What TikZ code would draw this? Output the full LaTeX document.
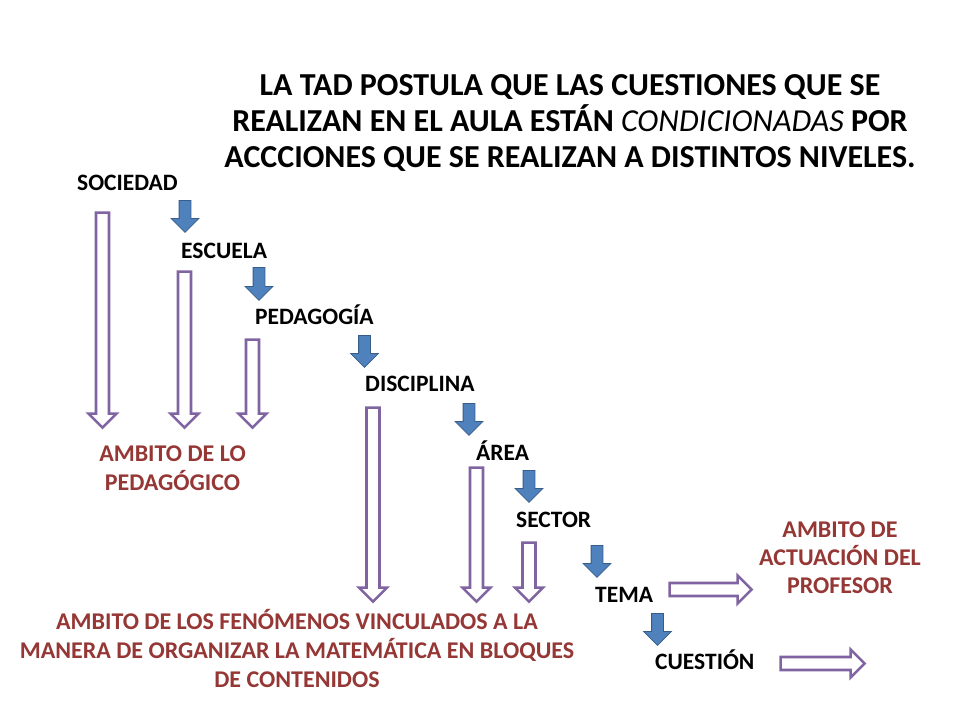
\documentclass[tikz,border=0pt]{standalone}
\usepackage{fontspec}
\setmainfont{Carlito}
\usetikzlibrary{shapes.arrows, positioning}
\definecolor{rojoambito}{HTML}{953735}
\definecolor{lila}{HTML}{8064A2}
\definecolor{azul}{HTML}{4F81BD}
\definecolor{azulborde}{HTML}{385D8A}

\begin{document}
\begin{tikzpicture}[x=1pt, y=-1pt]
    \tikzstyle{titulo}  = [anchor=base, inner sep=0pt, align=center, font=\fontsize{32}{36}\selectfont\bfseries]
    \tikzstyle{nivel}   = [anchor=base west, inner sep=0pt, font=\fontsize{23.5}{28}\selectfont\bfseries]
    \tikzstyle{ambito}  = [anchor=base, inner sep=0pt, align=center, text=rojoambito, font=\fontsize{24}{29}\selectfont\bfseries]
    \tikzstyle{paso}    = [single arrow, rotate=-90, anchor=tail, minimum width=27pt, single arrow head extend=8pt, inner xsep=0pt, inner ysep=5.5pt, fill=azul, draw=azulborde, line width=0.8pt]
    \tikzstyle{alcance} = [single arrow, anchor=tail, minimum width=25.4pt, single arrow head extend=7.5pt, inner xsep=0pt, inner ysep=5.2pt, fill=white, draw=lila, line width=2.6pt]
    \tikzstyle{baja}    = [rotate=-90]

    \fill[white] (0,0) rectangle (960,720);
    \useasboundingbox (0,0) rectangle (960,720);

    % Titulo (anclado en la ultima linea)
    \node [titulo] (titulo) at (570,167) {LA TAD POSTULA QUE LAS CUESTIONES QUE SE\\REALIZAN EN EL AULA ESTÁN {\mdseries\itshape CONDICIONADAS} POR\\ACCCIONES QUE SE REALIZAN A DISTINTOS NIVELES.};

    % Niveles
    \node [nivel] (sociedad)   at (77,190)  {SOCIEDAD};
    \node [nivel] (escuela)    at (181,258) {ESCUELA};
    \node [nivel] (pedagogia)  at (255,324) {PEDAGOGÍA};
    \node [nivel] (disciplina) at (365,391) {DISCIPLINA};
    \node [nivel] (area)       at (476,460) {ÁREA};
    \node [nivel] (sector)     at (516,527) {SECTOR};
    \node [nivel] (tema)       at (595,602) {TEMA};
    \node [nivel] (cuestion)   at (655,669) {CUESTIÓN};

    % Ambitos (anclados en la ultima linea)
    \node [ambito] (ambped)  at (172.5,490) {AMBITO DE LO\\PEDAGÓGICO};
    \node [ambito] (ambmat)  at (297,687)   {AMBITO DE LOS FENÓMENOS VINCULADOS A LA\\MANERA DE ORGANIZAR LA MATEMÁTICA EN BLOQUES\\DE CONTENIDOS};
    \node [ambito, font=\fontsize{24}{28}\selectfont\bfseries] (ambprof) at (840,593) {AMBITO DE\\ACTUACIÓN DEL\\PROFESOR};

    % Flechas entre niveles
    \node [paso, minimum height=32pt] (paso1) at (185,200) {};
    \node [paso, minimum height=33pt] (paso2) at (259,267) {};
    \node [paso, minimum height=32pt] (paso3) at (364.5,335) {};
    \node [paso, minimum height=32pt] (paso4) at (469,403) {};
    \node [paso, minimum height=32pt] (paso5) at (529,470) {};
    \node [paso, minimum height=32pt] (paso6) at (597,545) {};
    \node [paso, minimum height=32pt] (paso7) at (657.5,613) {};

    % Flechas de alcance
    \node [alcance, baja, minimum height=215pt] (alc1) at (102.5,211.3) {};
    \node [alcance, baja, minimum height=156pt] (alc2) at (184.5,270.3) {};
    \node [alcance, baja, minimum height=88pt]  (alc3) at (252.5,338.3) {};
    \node [alcance, baja, minimum height=194pt] (alc4) at (373,406.3)   {};
    \node [alcance, baja, minimum height=134pt] (alc5) at (476.5,466.3) {};
    \node [alcance, baja, minimum height=59pt]  (alc6) at (529,541.3)   {};
    \node [alcance, minimum height=82pt] (alc7) at (668.3,589.5) {};
    \node [alcance, minimum height=84pt] (alc8) at (779.3,663.5) {};

\end{tikzpicture}
\end{document}
